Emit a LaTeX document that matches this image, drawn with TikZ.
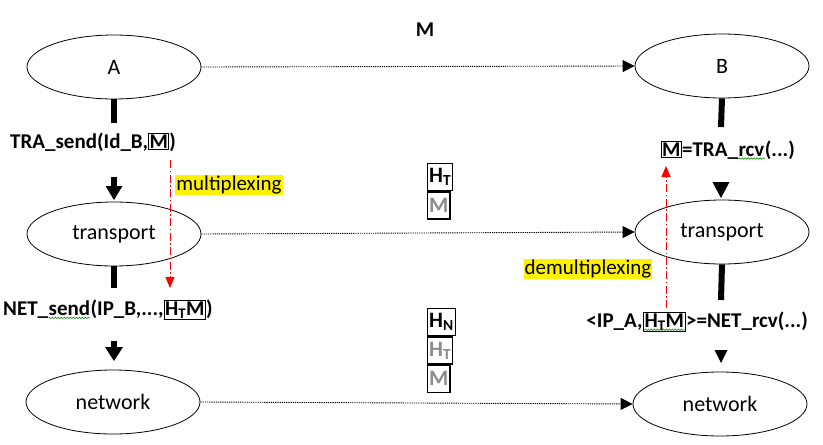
\documentclass[tikz,border=0pt]{standalone}
\usepackage{fontspec}
\setmainfont{Carlito}
\usetikzlibrary{shapes.geometric,arrows.meta,decorations.pathmorphing}
\newcommand{\bxd}[1]{{\setlength{\fboxsep}{0.6pt}\setlength{\fboxrule}{1pt}\fbox{#1}}}
\newcommand{\squig}[1]{\tikz[baseline=(sq.base)]{\node[inner sep=0pt,anchor=base,font=](sq){#1};\draw[green!55!black,line width=0.6pt,decorate,decoration={snake,amplitude=0.7pt,segment length=3pt}] ([yshift=-2.5pt]sq.base west) -- ([yshift=-2.5pt]sq.base east);}}
\begin{document}
\begin{tikzpicture}[x=1pt,y=-1pt,
  layer/.style={ellipse,draw,line width=0.8pt,minimum width=174pt,minimum height=64pt,inner sep=0pt,font=\fontsize{22}{26}\selectfont},
  call/.style={inner sep=0pt,font=\fontsize{21}{25}\selectfont\bfseries},
  bar/.style={line width=6pt},
  dotarr/.style={line width=0.9pt,dash pattern=on 1.2pt off 1pt,-{Triangle[length=12pt,width=12pt]}},
  redarr/.style={red,line width=1pt,dash pattern=on 8pt off 2.5pt on 1.5pt off 2.5pt,-{Triangle[length=11pt,width=9pt]}},
  hl/.style={fill=yellow,inner sep=1pt,font=\fontsize{21}{25}\selectfont},
  hbox/.style={draw,line width=1.3pt,inner sep=1.5pt,minimum height=27pt,anchor=north west,font=\fontsize{22}{26}\selectfont\bfseries},
  graytxt/.style={text=black!45}
]
\useasboundingbox (0,0) rectangle (823,445);

% layers
\node[layer] (A) at (114,67) {A};
\node[layer] (B) at (722,66) {B};
\node[layer] (TL) at (114,234) {transport};
\node[layer] (TR) at (722,232) {transport};
\node[layer] (NL) at (113,402) {network};
\node[layer] (NR) at (720,404) {network};

\node[font=\fontsize{21}{25}\selectfont\bfseries] (Mtop) at (425,30) {M};

% peer arrows
\draw[dotarr] (A.east) -- (B.west);
\draw[dotarr] (TL.east) -- (TR.west);
\draw[dotarr] (NL.east) -- (NR.west);

% calls
\node[call,anchor=west] (ts) at (10,142) {TRA\_send(Id\_B,\bxd{M})};
\node[call,anchor=west] (ns) at (3,310) {NET\_\squig{send}(IP\_B,...,\bxd{H\textsubscript{T}M})};
\node[call,anchor=east] (tr) at (795,150) {\bxd{M}=TRA\_\squig{rcv}(...)};
\node[call,anchor=east] (nr) at (808,322) {<IP\_A,\bxd{\squig{H\textsubscript{T}M}}>=NET\_rcv(...)};

% left column bars and arrows
\coordinate (a1) at (114,123);
\draw[bar] (A.south) -- (a1);
\coordinate (s1) at (114,177); \coordinate (h1b) at (114,186); \coordinate (h1t) at (114,200);
\draw[bar] (s1) -- (h1b);
\fill ([xshift=-8.5pt]h1b) -- ([xshift=8.5pt]h1b) -- (h1t) -- cycle;

\coordinate (a2) at (114,288);
\draw[bar] (TL.south) -- (a2);
\coordinate (s2) at (114,341); \coordinate (h2b) at (114,347); \coordinate (h2t) at (114,361);
\draw[bar] (s2) -- (h2b);
\fill ([xshift=-9pt]h2b) -- ([xshift=9pt]h2b) -- (h2t) -- cycle;

% right column bars and arrowheads
\coordinate (b1) at (721,127);
\draw[bar] (B.south) -- (b1);
\coordinate (h3b) at (721,182); \coordinate (h3t) at (721,198);
\fill ([xshift=-8.5pt]h3b) -- ([xshift=8.5pt]h3b) -- (h3t) -- cycle;

\coordinate (b2) at (721,300);
\draw[bar] (TR.south) -- (b2);
\coordinate (h4b) at (721,350); \coordinate (h4t) at (721,363);
\fill ([xshift=-6.5pt]h4b) -- ([xshift=6.5pt]h4b) -- (h4t) -- cycle;

% multiplexing / demultiplexing
\coordinate (r1s) at (170,160); \coordinate (r1e) at (170,288);
\draw[redarr] (r1s) -- (r1e);
\coordinate (r2s) at (666,308); \coordinate (r2e) at (666,166);
\draw[redarr] (r2s) -- (r2e);
\node[hl] (mx) at (229,185) {multiplexing};
\node[hl] (dmx) at (588,269) {demultiplexing};

% header stacks
\node[hbox] (ht1) at (427,163) {H\textsubscript{T}};
\node[hbox,graytxt] (m1) at (ht1.south west) {M};
\node[hbox] (hn2) at (427,308) {H\textsubscript{N}};
\node[hbox,graytxt] (ht2) at (hn2.south west) {H\textsubscript{T}};
\node[hbox,graytxt] (m2) at (ht2.south west) {M};
\end{tikzpicture}
\end{document}
